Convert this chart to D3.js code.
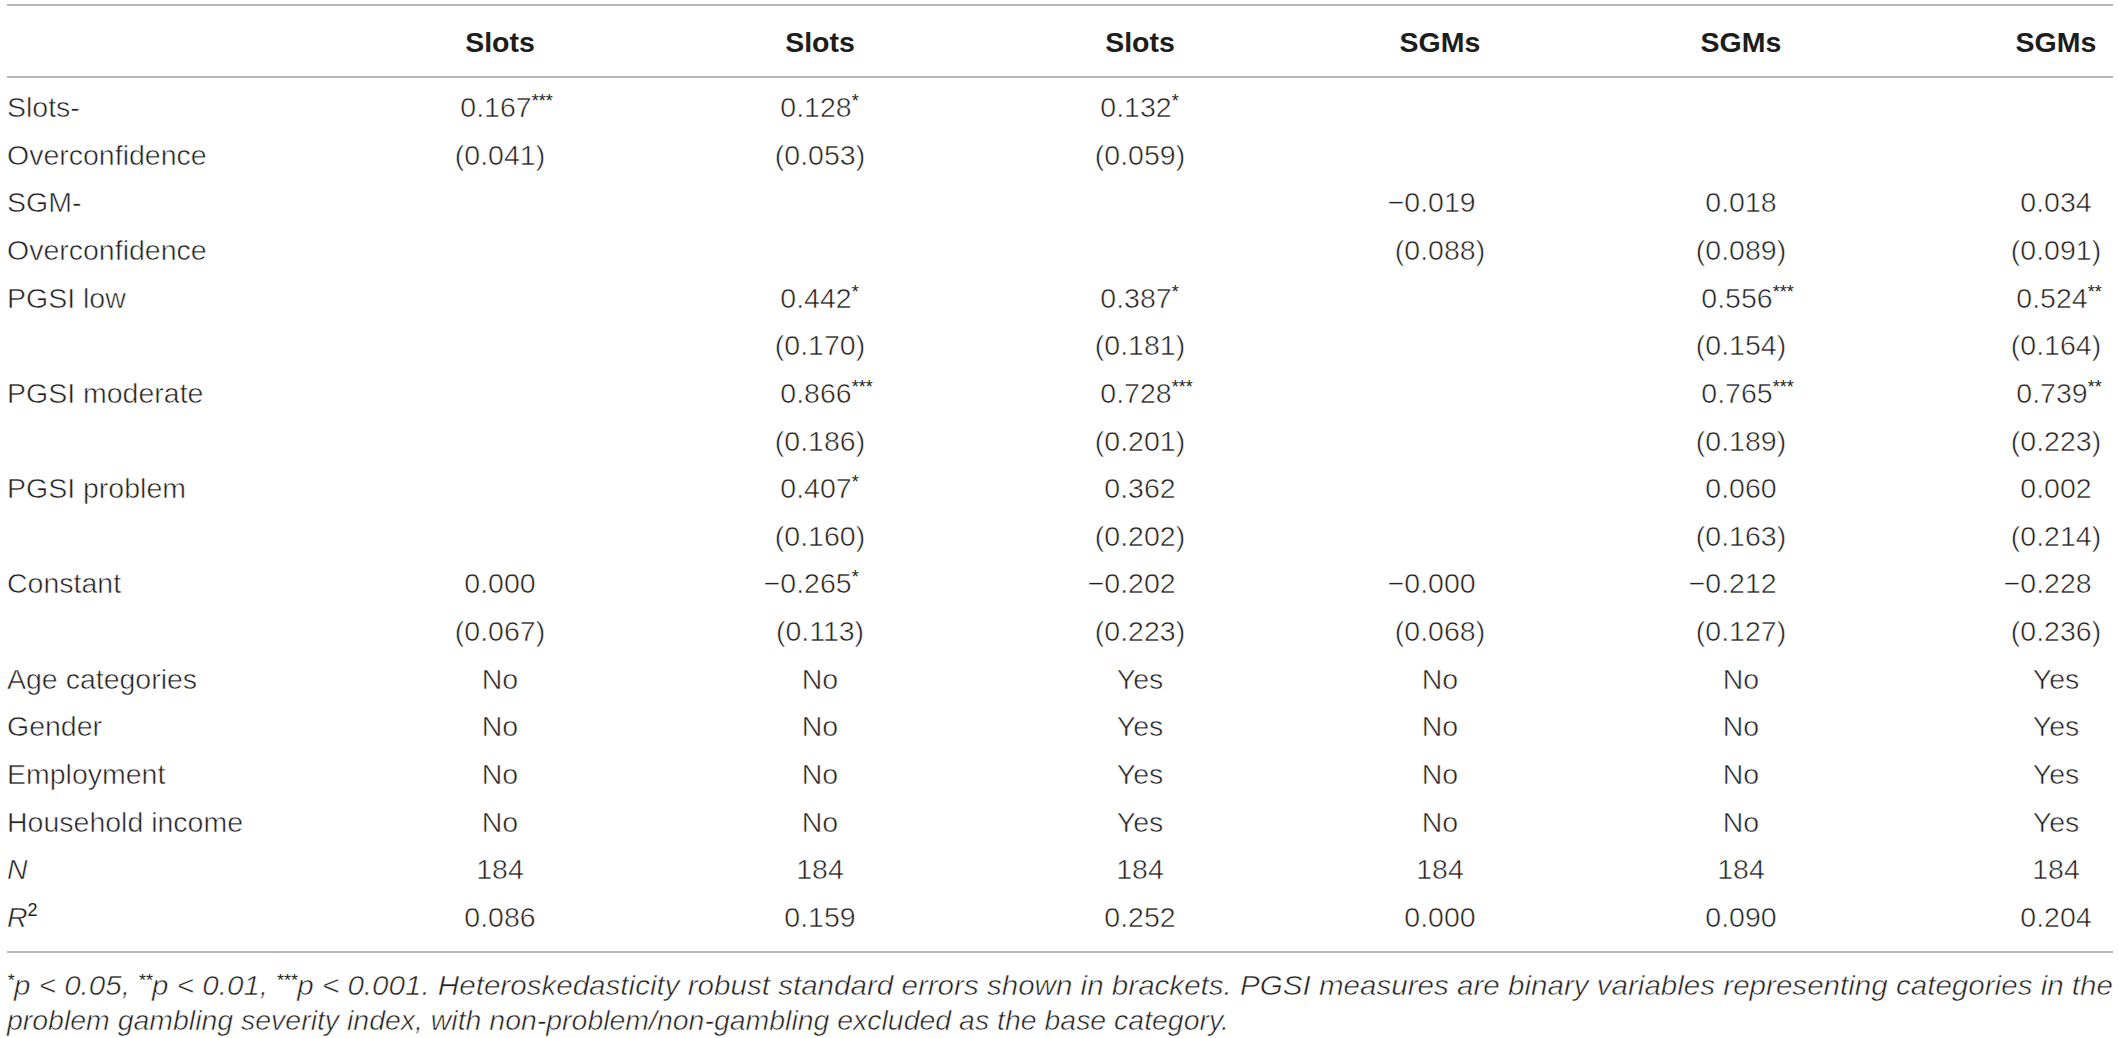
<!DOCTYPE html>
<html>
<head>
<meta charset="utf-8">
<script src="https://cdn.jsdelivr.net/npm/d3@7"></script>
<style>
  html, body { margin: 0; padding: 0; background: #fff; }
  svg text { font-family: "Liberation Sans", Arial, sans-serif; fill: #231f20; }
  svg text.thin { stroke: #fff; stroke-width: 0.55px; }
  svg tspan.sup { stroke: none; }
</style>
</head>
<body>
<div id="table"></div>
<script>
// Column headers (dependent variable of each model)
const models = ['Slots', 'Slots', 'Slots', 'SGMs', 'SGMs', 'SGMs'];

// Row labels, one per table line
const rowLabels = [
    'Slots-', 'Overconfidence', 'SGM-', 'Overconfidence',
    'PGSI low', '', 'PGSI moderate', '', 'PGSI problem', '',
    'Constant', '', 'Age categories', 'Gender', 'Employment',
    'Household income', 'N', 'R2'
];

// Cell values per model (coefficient, then standard error on next line)
const model1 = ['0.167***', '(0.041)', '', '', '', '', '', '', '', '', '0.000', '(0.067)', 'No', 'No', 'No', 'No', '184', '0.086'];
const model2 = ['0.128*', '(0.053)', '', '', '0.442*', '(0.170)', '0.866***', '(0.186)', '0.407*', '(0.160)', '−0.265*', '(0.113)', 'No', 'No', 'No', 'No', '184', '0.159'];
const model3 = ['0.132*', '(0.059)', '', '', '0.387*', '(0.181)', '0.728***', '(0.201)', '0.362', '(0.202)', '−0.202', '(0.223)', 'Yes', 'Yes', 'Yes', 'Yes', '184', '0.252'];
const model4 = ['', '', '−0.019', '(0.088)', '', '', '', '', '', '', '−0.000', '(0.068)', 'No', 'No', 'No', 'No', '184', '0.000'];
const model5 = ['', '', '0.018', '(0.089)', '0.556***', '(0.154)', '0.765***', '(0.189)', '0.060', '(0.163)', '−0.212', '(0.127)', 'No', 'No', 'No', 'No', '184', '0.090'];
const model6 = ['', '', '0.034', '(0.091)', '0.524**', '(0.164)', '0.739**', '(0.223)', '0.002', '(0.214)', '−0.228', '(0.236)', 'Yes', 'Yes', 'Yes', 'Yes', '184', '0.204'];

const footnoteLines = [
    [['*', true], ['p < 0.05, ', false], ['**', true], ['p < 0.01, ', false], ['***', true],
     ['p < 0.001. Heteroskedasticity robust standard errors shown in brackets. PGSI measures are binary variables representing categories in the', false]],
    [['problem gambling severity index, with non-problem/non-gambling excluded as the base category.', false]]
];

const columns = [model1, model2, model3, model4, model5, model6];

const width = 2119, height = 1038;
const fontSize = 28.5;

const svg = d3.select('#table').append('svg')
    .attr('width', width)
    .attr('height', height);

// Scales for cell positions
const x = d3.scaleOrdinal()
    .domain(d3.range(models.length))
    .range([500, 820, 1140, 1440, 1741, 2056]);

const y = d3.scalePoint()
    .domain(d3.range(rowLabels.length))
    .range([117, 927]);

const left = 7, right = 2113;

// Horizontal rules
[5, 77, 952].forEach(ly => {
    svg.append('line')
        .attr('x1', left).attr('x2', right)
        .attr('y1', ly).attr('y2', ly)
        .attr('stroke', '#a0a0a0')
        .attr('stroke-width', 1.6);
});

// Header
svg.selectAll('.head').data(models).enter().append('text')
    .attr('class', 'head')
    .attr('x', (d, i) => x(i))
    .attr('y', 52)
    .attr('text-anchor', 'middle')
    .attr('font-size', fontSize)
    .attr('font-weight', 'bold')
    .style('fill', '#1d1d1b')
    .text(d => d);

// Row labels
const labels = svg.selectAll('.label').data(rowLabels).enter().append('text')
    .attr('class', 'label thin')
    .attr('x', left)
    .attr('y', (d, i) => y(i))
    .attr('font-size', fontSize);

labels.each(function(d) {
    const t = d3.select(this);
    if (d === 'N') {
        t.attr('font-style', 'italic').text('N');
    } else if (d === 'R2') {
        t.append('tspan').attr('font-style', 'italic').text('R');
        t.append('tspan').attr('class', 'sup').attr('font-size', 18).attr('dy', -11).text('2');
    } else {
        t.text(d);
    }
});

// Cells
columns.forEach((col, ci) => {
    col.forEach((val, ri) => {
        if (!val) return;
        const m = val.match(/^(−?)(.*?)(\**)$/);
        const minus = m[1], core = m[2], stars = m[3];
        const cx = x(ci) - (stars ? 4 : 0);
        const cy = y(ri);
        const t = svg.append('text')
            .attr('class', 'cell thin')
            .attr('y', cy)
            .attr('font-size', fontSize)
            .text(core);
        const w = t.node().getComputedTextLength();
        t.attr('x', cx - w / 2);
        if (minus) {
            svg.append('text')
                .attr('class', 'thin')
                .attr('x', cx - w / 2)
                .attr('y', cy)
                .attr('text-anchor', 'end')
                .attr('font-size', fontSize)
                .text(minus);
        }
        if (stars) {
            svg.append('text')
                .attr('x', cx + w / 2)
                .attr('y', cy - 10)
                .attr('font-size', 18)
                .text(stars);
        }
    });
});

// Footnote
const noteY = [995, 1030];
const noteW = [right - left, 1222];
footnoteLines.forEach((parts, li) => {
    const t = svg.append('text')
        .attr('class', 'thin')
        .attr('x', left)
        .attr('y', noteY[li])
        .attr('font-size', 28)
        .attr('font-style', 'italic')
        .attr('textLength', noteW[li])
        .attr('lengthAdjust', 'spacingAndGlyphs');
    parts.forEach(([txt, sup]) => {
        const s = t.append('tspan').text(txt);
        if (sup) s.attr('class', 'sup').attr('font-size', 17).attr('baseline-shift', '9');
    });
});
</script>
</body>
</html>
